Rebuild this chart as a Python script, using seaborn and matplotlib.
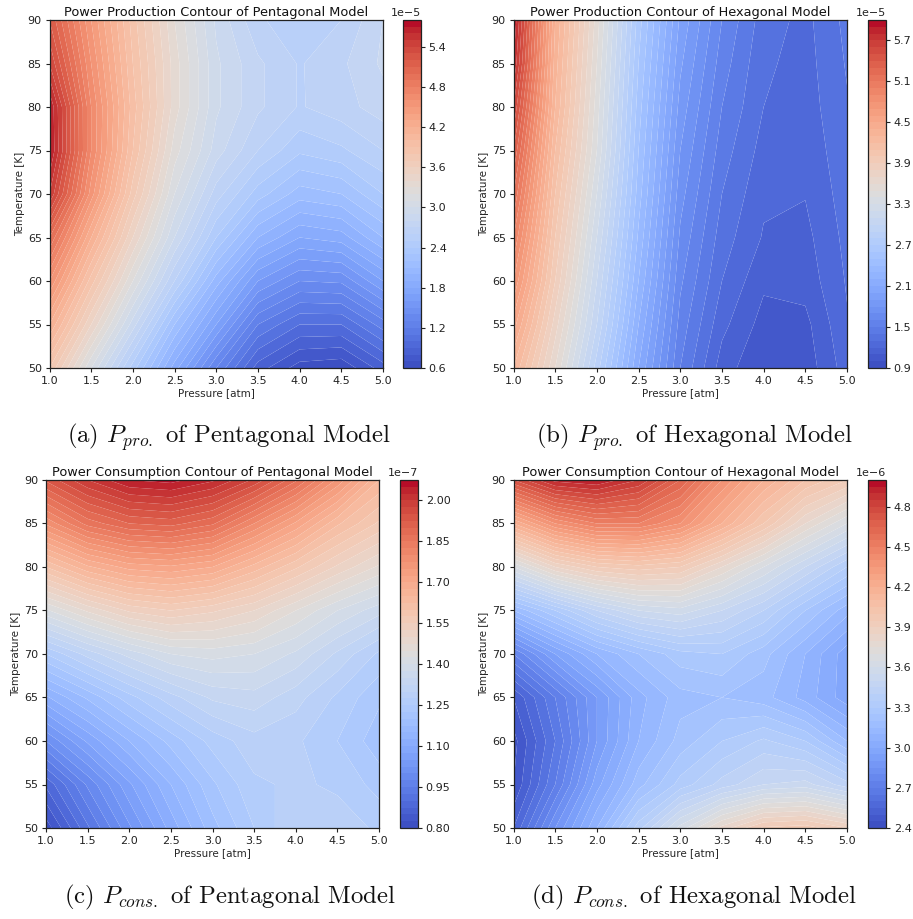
import numpy as np
import matplotlib
matplotlib.use("Agg")
import matplotlib.pyplot as plt
import seaborn as sns

pressure = [1.0, 1.5, 2.0, 2.5, 3.0, 3.5, 4.0, 4.5, 5.0]
temperature = [50, 55, 60, 65, 70, 75, 80, 85, 90]

# rows: temperature 50..90, columns: pressure 1..5
pro_pent = [
    [3.80, 3.10, 2.45, 1.85, 1.30, 0.85, 0.65, 0.62, 0.85],
    [4.20, 3.50, 2.85, 2.20, 1.70, 1.20, 1.00, 1.00, 1.25],
    [4.60, 3.85, 3.20, 2.60, 2.05, 1.60, 1.40, 1.42, 1.70],
    [5.00, 4.20, 3.50, 2.90, 2.40, 2.00, 1.80, 1.85, 2.10],
    [5.50, 4.55, 3.75, 3.10, 2.65, 2.35, 2.15, 2.20, 2.40],
    [5.72, 4.70, 3.90, 3.25, 2.85, 2.60, 2.42, 2.48, 2.60],
    [5.70, 4.70, 3.95, 3.35, 2.92, 2.72, 2.59, 2.66, 2.75],
    [5.40, 4.60, 3.90, 3.35, 2.92, 2.72, 2.59, 2.68, 2.82],
    [5.20, 4.50, 3.85, 3.30, 2.88, 2.62, 2.52, 2.60, 2.80],
]
pro_hex = [
    [4.30, 3.60, 2.85, 2.10, 1.50, 1.15, 1.01, 1.04, 1.25],
    [4.55, 3.75, 3.00, 2.20, 1.56, 1.23, 1.06, 1.07, 1.29],
    [4.80, 3.90, 3.10, 2.30, 1.62, 1.30, 1.12, 1.14, 1.31],
    [5.00, 4.00, 3.20, 2.38, 1.68, 1.35, 1.19, 1.17, 1.33],
    [5.20, 4.10, 3.30, 2.45, 1.74, 1.40, 1.22, 1.205, 1.35],
    [5.40, 4.20, 3.40, 2.50, 1.80, 1.45, 1.26, 1.23, 1.37],
    [5.60, 4.30, 3.45, 2.55, 1.86, 1.50, 1.30, 1.25, 1.39],
    [5.80, 4.35, 3.50, 2.60, 1.92, 1.55, 1.32, 1.26, 1.41],
    [5.90, 4.40, 3.55, 2.65, 1.98, 1.60, 1.35, 1.27, 1.43],
]
cons_pent = [
    [0.81, 0.92, 1.02, 1.11, 1.19, 1.25, 1.30, 1.29, 1.27],
    [0.88, 0.98, 1.07, 1.15, 1.22, 1.27, 1.28, 1.27, 1.24],
    [1.00, 1.08, 1.15, 1.21, 1.26, 1.29, 1.28, 1.25, 1.21],
    [1.12, 1.18, 1.24, 1.29, 1.33, 1.34, 1.31, 1.27, 1.23],
    [1.25, 1.31, 1.36, 1.40, 1.41, 1.40, 1.37, 1.32, 1.27],
    [1.42, 1.48, 1.53, 1.55, 1.53, 1.50, 1.45, 1.40, 1.36],
    [1.60, 1.67, 1.71, 1.72, 1.70, 1.64, 1.58, 1.52, 1.47],
    [1.78, 1.86, 1.90, 1.91, 1.88, 1.80, 1.72, 1.63, 1.57],
    [1.93, 2.00, 2.05, 2.06, 2.03, 1.97, 1.88, 1.77, 1.65],
]
cons_hex = [
    [2.55, 2.85, 3.10, 3.38, 3.62, 3.82, 3.96, 3.98, 3.90],
    [2.45, 2.70, 2.98, 3.18, 3.32, 3.42, 3.50, 3.52, 3.42],
    [2.43, 2.65, 2.90, 3.10, 3.22, 3.30, 3.36, 3.30, 3.15],
    [2.50, 2.70, 2.90, 3.08, 3.18, 3.20, 3.17, 3.08, 2.97],
    [2.75, 2.95, 3.10, 3.20, 3.28, 3.30, 3.22, 3.10, 2.97],
    [3.15, 3.30, 3.45, 3.55, 3.58, 3.50, 3.40, 3.25, 3.12],
    [3.65, 3.85, 3.95, 3.98, 3.95, 3.80, 3.65, 3.50, 3.35],
    [4.20, 4.40, 4.50, 4.50, 4.40, 4.20, 4.00, 3.80, 3.65],
    [4.75, 4.92, 4.95, 4.85, 4.65, 4.40, 4.20, 4.05, 3.95],
]

titles = ["Power Production Contour of Pentagonal Model",
          "Power Production Contour of Hexagonal Model",
          "Power Consumption Contour of Pentagonal Model",
          "Power Consumption Contour of Hexagonal Model"]
captions = [r"(a) $P_{pro.}$ of Pentagonal Model",
            r"(b) $P_{pro.}$ of Hexagonal Model",
            r"(c) $P_{cons.}$ of Pentagonal Model",
            r"(d) $P_{cons.}$ of Hexagonal Model"]
scales = [1e-5, 1e-5, 1e-7, 1e-6]
level_start = [0.6, 0.9, 0.8, 2.4]
level_stop = [5.8, 6.0, 2.075, 5.0]
level_step = [0.1, 0.1, 0.025, 0.05]
cbar_ticks = [[0.6, 1.2, 1.8, 2.4, 3.0, 3.6, 4.2, 4.8, 5.4],
              [0.9, 1.5, 2.1, 2.7, 3.3, 3.9, 4.5, 5.1, 5.7],
              [0.80, 0.95, 1.10, 1.25, 1.40, 1.55, 1.70, 1.85, 2.00],
              [2.4, 2.7, 3.0, 3.3, 3.6, 3.9, 4.2, 4.5, 4.8]]
grids = [pro_pent, pro_hex, cons_pent, cons_hex]

W, H = 913, 919
axes_px = [(49.5, 20, 383, 368), (513.5, 20, 847, 368),
           (46, 480, 379, 828), (513.5, 480, 847, 828)]
cbar_px = [(403, 421), (868, 886), (400, 418), (868, 886)]
caption_xy = [(229, 437), (694, 437), (230, 897), (694, 897)]

sns.set_theme(style="ticks")
plt.rcParams.update({"mathtext.fontset": "cm", "font.family": "DejaVu Sans",
                     "axes.edgecolor": "#222222", "xtick.color": "#222222",
                     "ytick.color": "#222222", "text.color": "#111111"})
cmap = sns.color_palette("coolwarm", as_cmap=True)

fig = plt.figure(figsize=(W / 100, H / 100), dpi=100)
P, T = np.meshgrid(pressure, temperature)

for i in range(4):
    x0, y0, x1, y1 = axes_px[i]
    ax = fig.add_axes([x0 / W, 1 - y1 / H, (x1 - x0) / W, (y1 - y0) / H])
    levels = np.arange(level_start[i], level_stop[i] + level_step[i] / 2, level_step[i]) * scales[i]
    cs = ax.contourf(P, T, np.array(grids[i]) * scales[i], levels=levels, cmap=cmap, antialiased=True)
    ax.set_xticks(np.arange(1.0, 5.01, 0.5))
    ax.set_yticks(np.arange(50, 91, 5))
    ax.tick_params(labelsize=8, length=3, width=0.8, pad=2.5)
    ax.set_xlabel("Pressure [atm]", fontsize=7.5, labelpad=2)
    ax.set_ylabel("Temperature [K]", fontsize=7.5, labelpad=2)
    ax.set_title(titles[i], fontsize=9.25, pad=3)
    for s in ax.spines.values():
        s.set_linewidth(0.9)

    c0, c1 = cbar_px[i]
    cax = fig.add_axes([c0 / W, 1 - y1 / H, (c1 - c0) / W, (y1 - y0) / H])
    cb = fig.colorbar(cs, cax=cax, ticks=np.array(cbar_ticks[i]) * scales[i])
    cb.formatter.set_useMathText(False)
    cb.ax.tick_params(labelsize=8, length=3, width=0.8, pad=2.5)
    cb.ax.yaxis.get_offset_text().set_fontsize(8)
    cb.outline.set_linewidth(0.9)
    cb.update_ticks()

    cx, cy = caption_xy[i]
    fig.text(cx / W, 1 - cy / H, captions[i], family="cmr10", fontsize=17.8,
             ha="center", va="center")

fig.savefig("out.png", dpi=100)
